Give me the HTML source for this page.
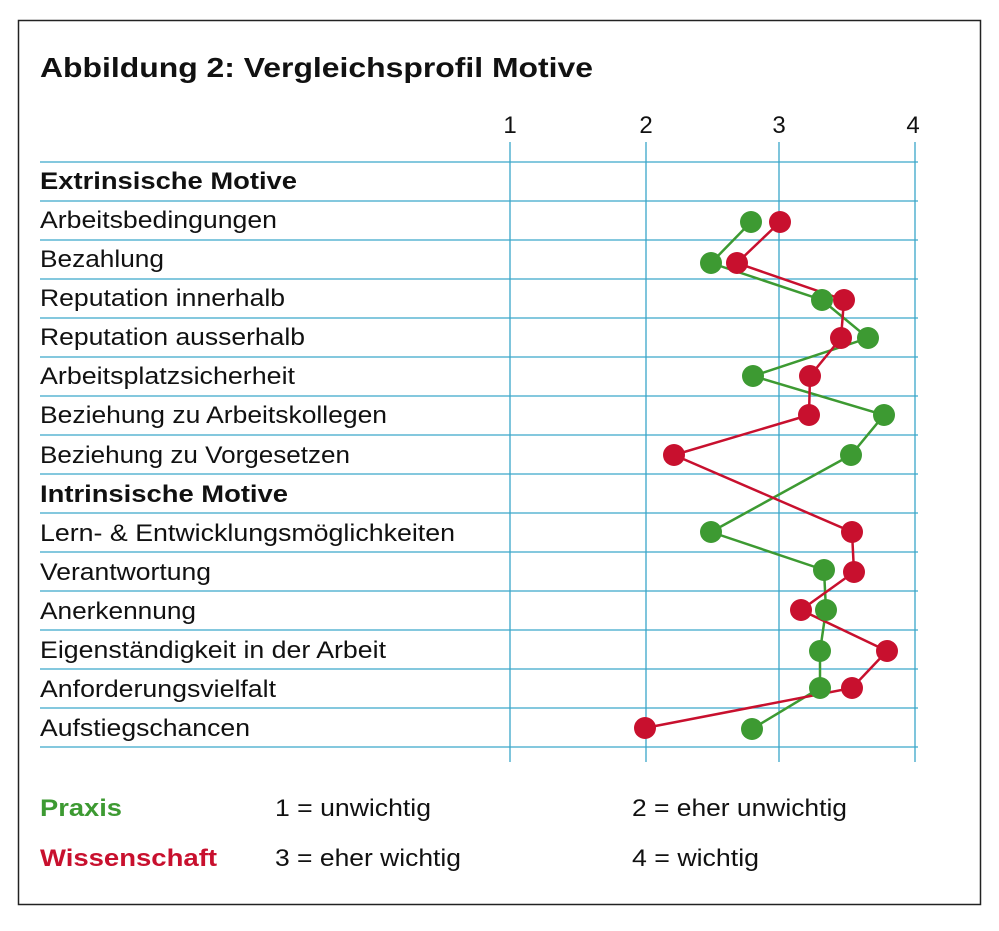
<!DOCTYPE html>
<html><head><meta charset="utf-8"><style>
html,body{margin:0;padding:0;background:#fff;}
body{width:999px;height:926px;overflow:hidden;}
</style></head><body>
<svg width="999" height="926" xmlns="http://www.w3.org/2000/svg" font-family="Liberation Sans, Arial, sans-serif">
<rect x="18.5" y="20.5" width="962" height="884" fill="none" stroke="#222" stroke-width="1.5"/>
<text x="40" y="77" font-size="28" font-weight="bold" fill="#111" textLength="553" lengthAdjust="spacingAndGlyphs">Abbildung 2: Vergleichsprofil Motive</text>
<g font-size="24" fill="#111" text-anchor="middle">
<text x="510" y="133">1</text><text x="646" y="133">2</text><text x="779" y="133">3</text><text x="913" y="133">4</text>
</g>
<g stroke="#3aa6c9" stroke-width="1.3">
<line x1="510" y1="142" x2="510" y2="762"/><line x1="646" y1="142" x2="646" y2="762"/>
<line x1="779" y1="142" x2="779" y2="762"/><line x1="915" y1="142" x2="915" y2="762"/>
<line x1="40" y1="162" x2="918" y2="162"/><line x1="40" y1="201" x2="918" y2="201"/>
<line x1="40" y1="240" x2="918" y2="240"/><line x1="40" y1="279" x2="918" y2="279"/>
<line x1="40" y1="318" x2="918" y2="318"/><line x1="40" y1="357" x2="918" y2="357"/>
<line x1="40" y1="396" x2="918" y2="396"/><line x1="40" y1="435" x2="918" y2="435"/>
<line x1="40" y1="474" x2="918" y2="474"/><line x1="40" y1="513" x2="918" y2="513"/>
<line x1="40" y1="552" x2="918" y2="552"/><line x1="40" y1="591" x2="918" y2="591"/>
<line x1="40" y1="630" x2="918" y2="630"/><line x1="40" y1="669" x2="918" y2="669"/>
<line x1="40" y1="708" x2="918" y2="708"/><line x1="40" y1="747" x2="918" y2="747"/>
</g>
<g font-size="24" fill="#111" lengthAdjust="spacingAndGlyphs">
<text x="40" y="189" font-weight="bold" textLength="257" lengthAdjust="spacingAndGlyphs">Extrinsische Motive</text>
<text x="40" y="228" textLength="237" lengthAdjust="spacingAndGlyphs">Arbeitsbedingungen</text>
<text x="40" y="267" textLength="124" lengthAdjust="spacingAndGlyphs">Bezahlung</text>
<text x="40" y="306" textLength="245" lengthAdjust="spacingAndGlyphs">Reputation innerhalb</text>
<text x="40" y="345" textLength="265" lengthAdjust="spacingAndGlyphs">Reputation ausserhalb</text>
<text x="40" y="384" textLength="255" lengthAdjust="spacingAndGlyphs">Arbeitsplatzsicherheit</text>
<text x="40" y="423" textLength="347" lengthAdjust="spacingAndGlyphs">Beziehung zu Arbeitskollegen</text>
<text x="40" y="463" textLength="310" lengthAdjust="spacingAndGlyphs">Beziehung zu Vorgesetzen</text>
<text x="40" y="502" font-weight="bold" textLength="248" lengthAdjust="spacingAndGlyphs">Intrinsische Motive</text>
<text x="40" y="541" textLength="415" lengthAdjust="spacingAndGlyphs">Lern- &amp; Entwicklungsmöglichkeiten</text>
<text x="40" y="580" textLength="171" lengthAdjust="spacingAndGlyphs">Verantwortung</text>
<text x="40" y="619" textLength="156" lengthAdjust="spacingAndGlyphs">Anerkennung</text>
<text x="40" y="658" textLength="346" lengthAdjust="spacingAndGlyphs">Eigenständigkeit in der Arbeit</text>
<text x="40" y="697" textLength="236" lengthAdjust="spacingAndGlyphs">Anforderungsvielfalt</text>
<text x="40" y="736" textLength="210" lengthAdjust="spacingAndGlyphs">Aufstiegschancen</text>
</g>
<polyline fill="none" stroke="#3d9a32" stroke-width="2.5" points="751,222 711,263 822,300 868,338 753,376 884,415 851,455 711,532 824,570 826,610 820,651 820,688 752,729"/>
<polyline fill="none" stroke="#c8102e" stroke-width="2.5" points="780,222 737,263 844,300 841,338 810,376 809,415 674,455 852,532 854,572 801,610 887,651 852,688 645,728"/>
<g fill="#3d9a32">
<circle cx="751" cy="222" r="11"/><circle cx="711" cy="263" r="11"/><circle cx="822" cy="300" r="11"/><circle cx="868" cy="338" r="11"/><circle cx="753" cy="376" r="11"/><circle cx="884" cy="415" r="11"/><circle cx="851" cy="455" r="11"/><circle cx="711" cy="532" r="11"/><circle cx="824" cy="570" r="11"/><circle cx="826" cy="610" r="11"/><circle cx="820" cy="651" r="11"/><circle cx="820" cy="688" r="11"/><circle cx="752" cy="729" r="11"/>
</g>
<g fill="#c8102e">
<circle cx="780" cy="222" r="11"/><circle cx="737" cy="263" r="11"/><circle cx="844" cy="300" r="11"/><circle cx="841" cy="338" r="11"/><circle cx="810" cy="376" r="11"/><circle cx="809" cy="415" r="11"/><circle cx="674" cy="455" r="11"/><circle cx="852" cy="532" r="11"/><circle cx="854" cy="572" r="11"/><circle cx="801" cy="610" r="11"/><circle cx="887" cy="651" r="11"/><circle cx="852" cy="688" r="11"/><circle cx="645" cy="728" r="11"/>
</g>
<g font-size="24">
<text x="40" y="816" font-weight="bold" fill="#3d9a32" textLength="82" lengthAdjust="spacingAndGlyphs">Praxis</text>
<text x="40" y="866" font-weight="bold" fill="#c8102e" textLength="177" lengthAdjust="spacingAndGlyphs">Wissenschaft</text>
<text x="275" y="816" fill="#111" textLength="156" lengthAdjust="spacingAndGlyphs">1 = unwichtig</text>
<text x="632" y="816" fill="#111" textLength="215" lengthAdjust="spacingAndGlyphs">2 = eher unwichtig</text>
<text x="275" y="866" fill="#111" textLength="186" lengthAdjust="spacingAndGlyphs">3 = eher wichtig</text>
<text x="632" y="866" fill="#111" textLength="127" lengthAdjust="spacingAndGlyphs">4 = wichtig</text>
</g>
</svg>
</body></html>
